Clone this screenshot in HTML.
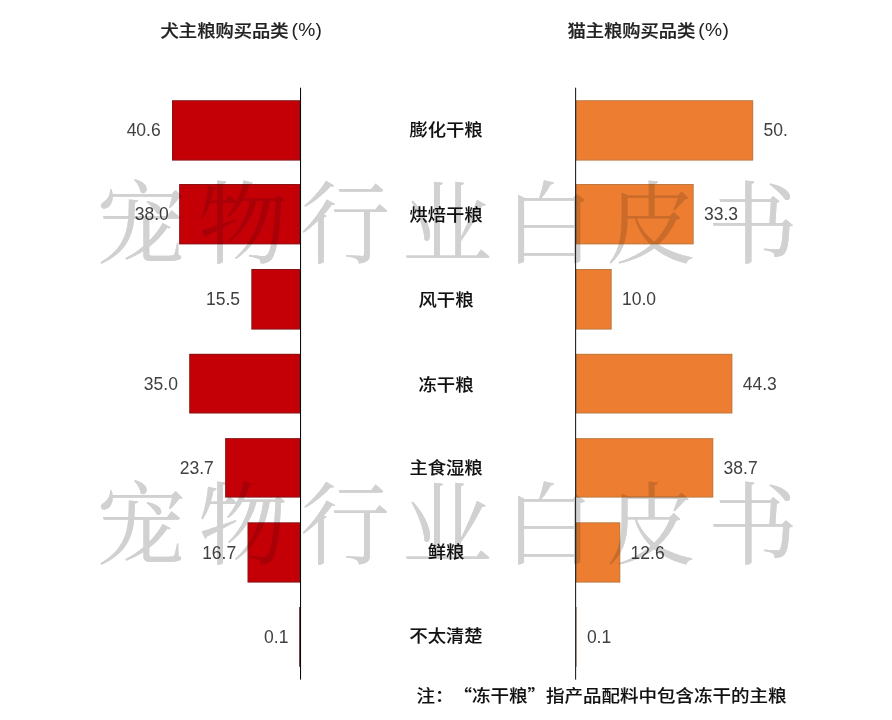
<!DOCTYPE html>
<html lang="zh-CN">
<head>
<meta charset="utf-8">
<title>主粮购买品类</title>
<style>
*{margin:0;padding:0;box-sizing:border-box}
html,body{width:892px;height:720px;background:#fff;overflow:hidden}
body{position:relative;font-family:"Liberation Sans","Noto Sans CJK SC",sans-serif;color:#404040}
svg{position:absolute;left:0;top:0}
.a{position:absolute;white-space:nowrap}
.k{-webkit-text-stroke:.1px currentColor;display:inline-block;transform:scaleY(.925);transform-origin:50% 50%}
.t .k{-webkit-text-stroke:.25px currentColor}
.p{font-size:19.2px;margin-left:3px;letter-spacing:.3px;position:relative;top:-1px}
.t{font-size:18.3px;font-weight:500;color:#222;line-height:20px;height:20px}
.v{font-size:17.5px;line-height:20px;height:20px;color:#404040}
.vl{text-align:right}
.c{font-size:18.3px;font-weight:500;color:#111;line-height:24px;height:24px;text-align:center;width:160px;left:366px}
.n{text-spacing-trim:space-all;font-size:18.5px;font-weight:500;color:#111;line-height:24px;height:24px}
.q{font-family:"Noto Sans CJK SC",sans-serif;display:inline-block;width:1em;text-align:center;text-spacing-trim:space-all}
.w{font-family:"Liberation Serif","Noto Serif CJK SC",serif;font-weight:400;font-size:90px;line-height:100px;height:100px;color:#dbdbdb;mix-blend-mode:multiply;letter-spacing:12px;left:96px}
.w2{color:#d1d1d1;mix-blend-mode:darken}
</style>
</head>
<body>
<svg width="892" height="720" viewBox="0 0 892 720">
<rect x="172.0" y="100.2" width="128.0" height="60.4" fill="#8a1215"/><rect x="173.0" y="101.2" width="126.0" height="58.4" fill="#c40006"/>
<rect x="576.0" y="100.2" width="177.2" height="60.4" fill="#bd7a40"/><rect x="577.0" y="101.2" width="175.2" height="58.4" fill="#ed7d30"/>
<rect x="179.1" y="184.0" width="120.9" height="60.4" fill="#8a1215"/><rect x="180.1" y="185.0" width="118.9" height="58.4" fill="#c40006"/>
<rect x="576.0" y="184.0" width="117.7" height="60.4" fill="#bd7a40"/><rect x="577.0" y="185.0" width="115.7" height="58.4" fill="#ed7d30"/>
<rect x="251.3" y="269.0" width="48.7" height="60.6" fill="#8a1215"/><rect x="252.3" y="270.0" width="46.7" height="58.6" fill="#c40006"/>
<rect x="576.0" y="269.0" width="35.7" height="60.6" fill="#bd7a40"/><rect x="577.0" y="270.0" width="33.7" height="58.6" fill="#ed7d30"/>
<rect x="189.2" y="353.8" width="110.8" height="59.7" fill="#8a1215"/><rect x="190.2" y="354.8" width="108.8" height="57.7" fill="#c40006"/>
<rect x="576.0" y="353.8" width="156.4" height="59.7" fill="#bd7a40"/><rect x="577.0" y="354.8" width="154.4" height="57.7" fill="#ed7d30"/>
<rect x="225.1" y="438.1" width="74.9" height="59.5" fill="#8a1215"/><rect x="226.1" y="439.1" width="72.9" height="57.5" fill="#c40006"/>
<rect x="576.0" y="438.1" width="137.3" height="59.5" fill="#bd7a40"/><rect x="577.0" y="439.1" width="135.3" height="57.5" fill="#ed7d30"/>
<rect x="247.5" y="522.3" width="52.5" height="60.3" fill="#8a1215"/><rect x="248.5" y="523.3" width="50.5" height="58.3" fill="#c40006"/>
<rect x="576.0" y="522.3" width="44.3" height="60.3" fill="#bd7a40"/><rect x="577.0" y="523.3" width="42.3" height="58.3" fill="#ed7d30"/>
<rect x="299.2" y="607.0" width="0.8" height="59.8" fill="#5a1414"/>
<rect x="576.0" y="607.0" width="0.6" height="59.8" fill="#8a6a55"/>
<rect x="300" y="87.7" width="1.05" height="591.9" fill="#0a0a0a"/>
<rect x="575" y="87.7" width="1.15" height="591.9" fill="#2b2b2b"/>
</svg>
<div class="a t" style="left:160.6px;top:21.1px"><span class="k">犬主粮购买品类</span><span class="p">(%)</span></div>
<div class="a t" style="left:567.4px;top:21.1px"><span class="k">猫主粮购买品类</span><span class="p">(%)</span></div>
<div class="a v vl" style="right:731.3px;top:120.4px">40.6</div>
<div class="a v" style="left:763.5px;top:120.4px">50.</div>
<div class="a c" style="top:117.9px"><span class="k">膨化干粮</span></div>
<div class="a v vl" style="right:723.2px;top:204.2px">38.0</div>
<div class="a v" style="left:704.0px;top:204.2px">33.3</div>
<div class="a c" style="top:203.3px"><span class="k">烘焙干粮</span></div>
<div class="a v vl" style="right:652.0px;top:289.3px">15.5</div>
<div class="a v" style="left:622.0px;top:289.3px">10.0</div>
<div class="a c" style="top:288.4px"><span class="k">风干粮</span></div>
<div class="a v vl" style="right:714.1px;top:373.6px">35.0</div>
<div class="a v" style="left:742.7px;top:373.6px">44.3</div>
<div class="a c" style="top:372.6px"><span class="k">冻干粮</span></div>
<div class="a v vl" style="right:678.2px;top:457.9px">23.7</div>
<div class="a v" style="left:723.6px;top:457.9px">38.7</div>
<div class="a c" style="top:455.9px"><span class="k">主食湿粮</span></div>
<div class="a v vl" style="right:655.8px;top:542.5px">16.7</div>
<div class="a v" style="left:630.6px;top:542.5px">12.6</div>
<div class="a c" style="top:540.0px"><span class="k">鲜粮</span></div>
<div class="a v vl" style="right:603.6px;top:626.9px">0.1</div>
<div class="a v" style="left:586.9px;top:626.9px">0.1</div>
<div class="a c" style="top:624.4px"><span class="k">不太清楚</span></div>
<div class="a n" style="left:416.5px;top:683px"><span class="k">注<span class="q">：</span><span class="q">“</span>冻干粮<span class="q">”</span>指产品配料中包含冻干的主粮</span></div>
<div class="a w" style="top:175.5px">宠物行业白皮书</div>
<div class="a w w2" style="top:175.5px">宠物行业白皮书</div>
<div class="a w" style="top:477px">宠物行业白皮书</div>
<div class="a w w2" style="top:477px">宠物行业白皮书</div>
</body>
</html>
